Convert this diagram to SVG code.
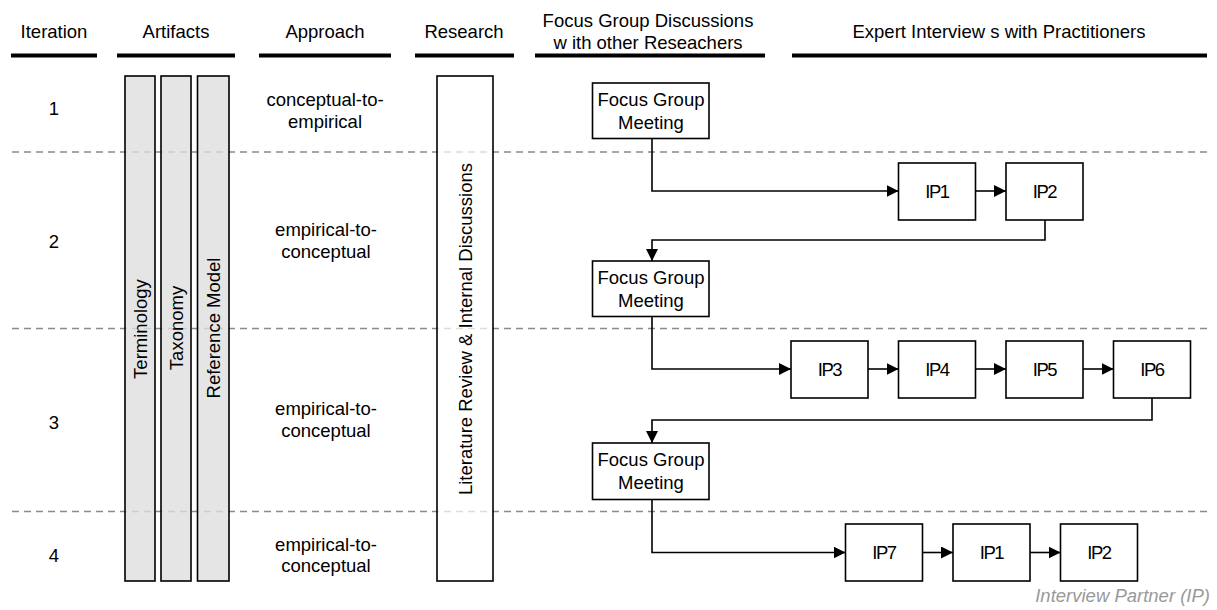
<svg xmlns="http://www.w3.org/2000/svg" width="1217" height="610" viewBox="0 0 1217 610">
  <style>
    text { font-family: "Liberation Sans", Arial, sans-serif; font-size: 18.5px; fill: #000; }
    .c { text-anchor: middle; }
    .hdr { stroke: #000; stroke-width: 4; }
    .sep { stroke: #8a8a8a; stroke-width: 1.5; stroke-dasharray: 7 5; fill: none; }
    .bar { fill: #dedede; fill-opacity: 0.8; stroke: #000; stroke-width: 1.6; }
    .res { fill: #fff; fill-opacity: 0.7; stroke: #000; stroke-width: 1.6; }
    .box { fill: #fff; stroke: #000; stroke-width: 1.6; }
    .ip { letter-spacing: -1.5px; }
    .wire { fill: none; stroke: #000; stroke-width: 1.6; marker-end: url(#arrow); }
    .note { fill: #999; font-style: italic; text-anchor: end; }
  </style>
  <defs>
    <marker id="arrow" markerUnits="userSpaceOnUse" markerWidth="12" markerHeight="12" refX="12" refY="6" orient="auto">
      <path d="M0,0 L12,6 L0,12 Z" fill="#000"/>
    </marker>
  </defs>

  <!-- column headings -->
  <g id="headers">
    <text class="c" x="54" y="38">Iteration</text>
    <text class="c" x="176" y="38">Artifacts</text>
    <text class="c" x="325" y="38">Approach</text>
    <text class="c" x="464" y="38">Research</text>
    <text class="c" x="648" y="26.5">Focus Group Discussions</text>
    <text class="c" x="648" y="48.5">w ith other Reseachers</text>
    <text class="c" x="999" y="38">Expert Interview s with Practitioners</text>
    <line class="hdr" x1="11" y1="55.5" x2="97" y2="55.5"/>
    <line class="hdr" x1="117" y1="55.5" x2="235" y2="55.5"/>
    <line class="hdr" x1="259" y1="55.5" x2="391" y2="55.5"/>
    <line class="hdr" x1="415" y1="55.5" x2="514" y2="55.5"/>
    <line class="hdr" x1="535" y1="55.5" x2="765" y2="55.5"/>
    <line class="hdr" x1="792" y1="55.5" x2="1207" y2="55.5"/>
  </g>

  <!-- iteration separators -->
  <g id="separators">
    <line class="sep" x1="12" y1="152" x2="1207" y2="152"/>
    <line class="sep" x1="12" y1="328.5" x2="1207" y2="328.5"/>
    <line class="sep" x1="12" y1="511.5" x2="1207" y2="511.5"/>
  </g>

  <!-- iteration numbers -->
  <g id="iterations">
    <text class="c" x="54" y="115">1</text>
    <text class="c" x="54" y="247.5">2</text>
    <text class="c" x="54" y="428.5">3</text>
    <text class="c" x="54" y="561.5">4</text>
  </g>

  <!-- artifact bars -->
  <g id="artifact-terminology">
    <rect class="bar" x="125" y="76" width="30" height="505"/>
    <text class="c" transform="translate(146.5,329) rotate(-90)">Terminology</text>
  </g>
  <g id="artifact-taxonomy">
    <rect class="bar" x="161" y="76" width="30" height="505"/>
    <text class="c" transform="translate(182.5,328) rotate(-90)">Taxonomy</text>
  </g>
  <g id="artifact-reference-model">
    <rect class="bar" x="197.5" y="76" width="31.5" height="505"/>
    <text class="c" transform="translate(219.5,328) rotate(-90)">Reference Model</text>
  </g>

  <!-- approach per iteration -->
  <g id="approaches">
    <text class="c" x="325" y="106">conceptual-to-</text>
    <text class="c" x="325" y="127.5">empirical</text>
    <text class="c" x="326" y="236">empirical-to-</text>
    <text class="c" x="326" y="258">conceptual</text>
    <text class="c" x="326" y="415">empirical-to-</text>
    <text class="c" x="326" y="437">conceptual</text>
    <text class="c" x="326" y="550.5">empirical-to-</text>
    <text class="c" x="326" y="572">conceptual</text>
  </g>

  <!-- research bar -->
  <g id="research">
    <rect class="res" x="437" y="76" width="56" height="505"/>
    <text class="c" transform="translate(471.5,329) rotate(-90)">Literature Review &amp; Internal Discussions</text>
  </g>

  <!-- focus group meetings -->
  <g id="fg1">
    <rect class="box" x="592.5" y="83" width="116.5" height="55.5"/>
    <text class="c" x="651" y="106">Focus Group</text>
    <text class="c" x="651" y="128.5">Meeting</text>
  </g>
  <g id="fg2">
    <rect class="box" x="592.5" y="261" width="116.5" height="55.5"/>
    <text class="c" x="651" y="284">Focus Group</text>
    <text class="c" x="651" y="306.5">Meeting</text>
  </g>
  <g id="fg3">
    <rect class="box" x="592.5" y="443" width="116.5" height="56.5"/>
    <text class="c" x="651" y="466">Focus Group</text>
    <text class="c" x="651" y="488.5">Meeting</text>
  </g>

  <!-- interview partners, iteration 2 -->
  <g id="ip1-a">
    <rect class="box" x="898.5" y="163" width="77" height="57"/>
    <text class="c ip" x="937" y="198">IP1</text>
  </g>
  <g id="ip2-a">
    <rect class="box" x="1006" y="163" width="77" height="57"/>
    <text class="c ip" x="1044.5" y="198">IP2</text>
  </g>

  <!-- interview partners, iteration 3 -->
  <g id="ip3">
    <rect class="box" x="791" y="341" width="77" height="57"/>
    <text class="c ip" x="829.5" y="376">IP3</text>
  </g>
  <g id="ip4">
    <rect class="box" x="898.5" y="341" width="77" height="57"/>
    <text class="c ip" x="937" y="376">IP4</text>
  </g>
  <g id="ip5">
    <rect class="box" x="1006" y="341" width="77" height="57"/>
    <text class="c ip" x="1044.5" y="376">IP5</text>
  </g>
  <g id="ip6">
    <rect class="box" x="1113.5" y="341" width="77" height="57"/>
    <text class="c ip" x="1152" y="376">IP6</text>
  </g>

  <!-- interview partners, iteration 4 -->
  <g id="ip7">
    <rect class="box" x="845.5" y="524" width="77" height="57"/>
    <text class="c ip" x="884" y="559">IP7</text>
  </g>
  <g id="ip1-b">
    <rect class="box" x="953" y="524" width="77" height="57"/>
    <text class="c ip" x="991.5" y="559">IP1</text>
  </g>
  <g id="ip2-b">
    <rect class="box" x="1060.5" y="524" width="77" height="57"/>
    <text class="c ip" x="1099" y="559">IP2</text>
  </g>

  <!-- flow connectors -->
  <g id="connectors">
    <path class="wire" d="M652,138.5 V191 H898.5"/>
    <path class="wire" d="M975.5,191 H1006"/>
    <path class="wire" d="M1045,220 V240 H652 V261"/>
    <path class="wire" d="M652,316.5 V369 H791"/>
    <path class="wire" d="M868,369 H898.5"/>
    <path class="wire" d="M975.5,369 H1006"/>
    <path class="wire" d="M1083,369 H1113.5"/>
    <path class="wire" d="M1152,398 V420 H652 V443"/>
    <path class="wire" d="M652,499.5 V552.5 H845.5"/>
    <path class="wire" d="M922.5,552.5 H953"/>
    <path class="wire" d="M1030,552.5 H1060.5"/>
  </g>

  <!-- legend -->
  <g id="legend">
    <text class="note" x="1210" y="602">Interview Partner (IP)</text>
  </g>
</svg>
